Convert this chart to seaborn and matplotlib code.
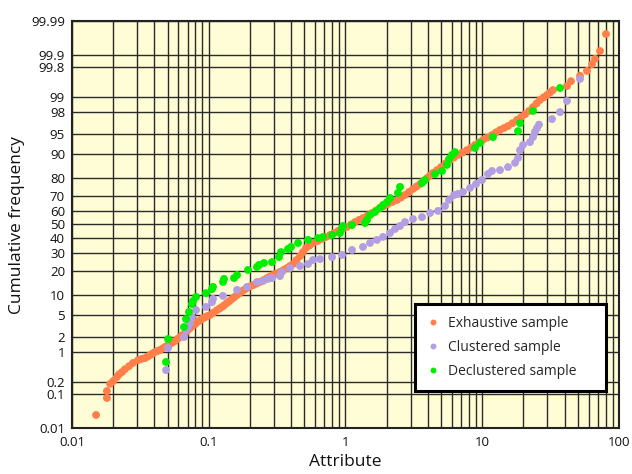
import math
from statistics import NormalDist
import numpy as np
import pandas as pd
import matplotlib
matplotlib.use("Agg")
import matplotlib.pyplot as plt
import seaborn as sns

# ---------------- data ----------------
# exhaustive sample: first pass of readings along the curve
exh_x = [0.015, 0.018, 0.018, 0.019, 0.020, 0.0213, 0.0221, 0.0232, 0.0244, 0.0261,
         0.0279, 0.0304, 0.0342, 0.0372, 0.0405, 0.0440, 0.0479, 0.0521, 0.0566, 0.0616,
         0.0671, 0.0729, 0.0793, 0.0863, 0.0939, 0.102, 0.115, 0.125, 0.136, 0.148,
         0.161, 0.175, 0.191, 0.211, 0.237, 0.267, 0.295, 0.332, 0.373, 0.413,
         0.465, 0.514, 0.578, 0.673, 0.770, 0.881, 1.026, 1.174, 1.343, 1.562,
         1.788, 2.046, 2.380, 2.723, 3.116, 3.506, 3.945, 4.364, 4.994, 5.810,
         6.647, 7.736, 8.851, 10.13, 11.78, 13.48, 15.43, 17.96, 20.54, 23.50,
         26.44, 29.75, 32.91, 41.66, 44.57, 51.86, 58.34, 63.48, 66.76, 72.61, 80.35]
exh_p = [0.025, 0.076, 0.117, 0.18, 0.21, 0.265, 0.31, 0.35, 0.41, 0.48,
         0.57, 0.66, 0.73, 0.85, 0.99, 1.09, 1.26, 1.44, 1.66, 1.98,
         2.36, 2.9, 3.4, 4.0, 4.5, 4.9, 5.9, 6.6, 7.6, 8.7,
         9.9, 11.2, 12.3, 13.4, 14.7, 16.4, 17.8, 19.3, 21.3, 23.5,
         28.2, 33.4, 36.8, 39.6, 42.4, 45.3, 48.2, 51.8, 54.7, 58.3,
         61.9, 64.6, 67.3, 70.5, 74.2, 77.0, 80.2, 82.7, 85.3, 88.1,
         89.8, 91.3, 92.7, 93.9, 94.9, 95.8, 96.4, 97.2, 97.8, 98.4,
         98.86, 99.10, 99.30, 99.43, 99.56, 99.67, 99.75, 99.83, 99.876, 99.924, 99.975]
# exhaustive sample: further readings inside the dense part of the curve
exh_x2 = [0.0322, 0.0357, 0.0388, 0.0422, 0.0459, 0.0499, 0.0543, 0.0591, 0.0643, 0.0699,
          0.0761, 0.0827, 0.0900, 0.0979, 0.1083, 0.1199, 0.1304, 0.1418, 0.1543, 0.1679,
          0.1826, 0.2002, 0.2235, 0.2514, 0.2804, 0.3128, 0.352, 0.3927, 0.4383, 0.4888,
          0.5454, 0.6240, 0.7203, 0.8237, 0.951, 1.097, 1.255, 1.448, 1.671, 1.911,
          2.207, 2.546, 2.913, 3.305, 3.719, 4.149, 4.668, 5.387, 6.215, 7.173,
          8.275, 9.467, 10.92, 12.60, 14.42, 16.64, 19.20, 21.98, 24.93, 28.05, 31.29]
exh_p2 = [0.70, 0.79, 0.92, 1.04, 1.17, 1.35, 1.55, 1.82, 2.17, 2.63,
          3.17, 3.74, 4.29, 4.72, 5.38, 6.23, 7.05, 8.09, 9.26, 10.5,
          11.7, 12.9, 14.0, 15.5, 17.1, 18.5, 20.3, 22.4, 25.8, 30.7,
          35.0, 38.1, 41.0, 43.8, 46.7, 50.0, 53.3, 56.6, 60.1, 63.2,
          66.0, 68.9, 72.4, 75.6, 78.7, 81.5, 84.0, 86.8, 89.0, 90.6,
          92.0, 93.3, 94.4, 95.4, 96.1, 96.8, 97.5, 98.1, 98.65, 98.99, 99.21]

clu_x = [0.0487, 0.0504, 0.0659, 0.0682, 0.0705, 0.0729, 0.0754, 0.0807, 0.0955, 0.1056,
         0.1074, 0.1271, 0.161, 0.1905, 0.2253, 0.2493, 0.2713, 0.290, 0.332, 0.3433,
         0.3927, 0.465, 0.532, 0.578, 0.651, 0.797, 0.943, 1.116, 1.343, 1.511,
         1.699, 1.880, 2.115, 2.301, 2.503, 2.723, 3.116, 3.626, 4.149, 4.747,
         5.341, 5.713, 6.215, 6.647, 7.233, 8.137, 9.000, 9.958, 11.02, 11.78,
         13.48, 15.43, 17.36, 18.26, 18.88, 19.86, 22.35, 23.50, 24.30, 25.14,
         26.00, 32.36, 37.03, 41.66, 51.86]
clu_p = [0.39, 1.20, 1.98, 2.69, 3.05, 3.59, 4.54, 5.9, 6.6, 7.8,
         8.7, 9.6, 11.6, 12.7, 14.7, 15.1, 16.0, 16.4, 17.3, 19.3,
         21.3, 22.4, 23.5, 25.8, 26.4, 27.6, 28.9, 32.1, 34.1, 36.8,
         38.9, 41.0, 43.8, 46.7, 48.9, 51.8, 54.0, 55.4, 58.3, 59.8,
         63.2, 67.3, 70.5, 71.2, 72.4, 74.8, 77.0, 79.2, 82.2, 83.6,
         84.0, 85.3, 87.0, 88.8, 91.3, 92.7, 93.4, 94.5, 95.5, 96.1,
         96.6, 97.3, 98.0, 98.8, 99.61]

dec_x = [0.0487, 0.0504, 0.0659, 0.0682, 0.0717, 0.0754, 0.0767, 0.0807, 0.0955, 0.1056,
         0.1074, 0.1271, 0.1293, 0.1530, 0.161, 0.1936, 0.2253, 0.2331, 0.2535, 0.290,
         0.3264, 0.3376, 0.3798, 0.3996, 0.4495, 0.532, 0.6294, 0.6846, 0.7969, 0.9117,
         0.9428, 0.9587, 1.1156, 1.388, 1.436, 1.511, 1.643, 1.788, 1.880, 2.012,
         2.115, 2.420, 2.503, 3.626, 3.814, 4.512, 5.078, 5.523, 5.713, 6.009,
         6.318, 8.851, 9.627, 11.98, 18.26, 18.88, 23.50, 37.03]
dec_p = [0.60, 1.82, 3.05, 4.2, 5.5, 7.3, 8.1, 9.3, 10.5, 11.9,
         12.7, 14.7, 16.0, 16.4, 17.8, 20.3, 21.9, 23.0, 24.1, 24.6,
         27.6, 30.7, 32.7, 34.1, 36.8, 38.9, 40.2, 41.0, 42.4, 43.8,
         47.4, 48.9, 49.6, 51.1, 53.3, 56.9, 59.1, 61.9, 63.9, 66.0,
         68.6, 71.8, 75.4, 77.6, 79.2, 82.2, 83.6, 86.2, 88.4, 89.8,
         90.7, 91.9, 93.2, 94.5, 95.6, 96.8, 98.1, 99.37]

series_names = ["Exhaustive sample", "Clustered sample", "Declustered sample"]
series_colors = ["#FF7F4A", "#B39DE3", "#00EE00"]

y_ticks = [0.01, 0.1, 0.2, 1, 2, 5, 10, 20, 30, 40, 50, 60, 70, 80, 90, 95, 98, 99, 99.8, 99.9, 99.99]
y_tick_labels = ["0.01", "0.1", "0.2", "1", "2", "5", "10", "20", "30", "40", "50",
                 "60", "70", "80", "90", "95", "98", "99", "99.8", "99.9", "99.99"]
x_ticks = [0.01, 0.1, 1, 10, 100]
x_tick_labels = ["0.01", "0.1", "1", "10", "100"]

# ---------------- build frame ----------------
df = pd.concat([
    pd.DataFrame({"Attribute": exh_x + exh_x2, "Cum": exh_p + exh_p2, "Sample": series_names[0]}),
    pd.DataFrame({"Attribute": clu_x, "Cum": clu_p, "Sample": series_names[1]}),
    pd.DataFrame({"Attribute": dec_x, "Cum": dec_p, "Sample": series_names[2]}),
], ignore_index=True)

# ---------------- probability scale ----------------
_nd = NormalDist()
_ppf = np.vectorize(_nd.inv_cdf, otypes=[float])
_erf = np.vectorize(math.erf, otypes=[float])


def prob_fwd(p):
    p = np.clip(np.asarray(p, dtype=float) / 100.0, 1e-12, 1 - 1e-12)
    return _ppf(p)


def prob_inv(z):
    z = np.asarray(z, dtype=float)
    return 100.0 * 0.5 * (1.0 + _erf(z / math.sqrt(2.0)))


sns.set_theme(style="white")
plt.rcParams["font.family"] = ["Open Sans", "DejaVu Sans"]

fig = plt.figure(figsize=(6.32, 4.74), dpi=100)
ax = fig.add_axes([72 / 632, 46 / 474, 547 / 632, 407 / 474])
ax.set_facecolor("#FFFDD6")

ax.set_xscale("log")
ax.set_yscale("function", functions=(prob_fwd, prob_inv))

sns.scatterplot(data=df, x="Attribute", y="Cum", hue="Sample",
                hue_order=series_names, palette=series_colors,
                s=32, edgecolor="none", linewidth=0, ax=ax, zorder=3)

ax.set_xlim(0.01, 100)
ax.set_ylim(0.01, 99.99)
ax.set_xticks(x_ticks)
ax.set_xticklabels(x_tick_labels)
minor = [m * 10.0 ** e for e in range(-2, 2) for m in range(2, 10)]
ax.set_xticks(minor, minor=True)
ax.set_xticklabels([], minor=True)
ax.set_yticks(y_ticks)
ax.set_yticklabels(y_tick_labels)
ax.set_yticks([], minor=True)

ax.grid(True, which="both", axis="x", color="#2a2a2a", linewidth=1.0, zorder=1)
ax.grid(True, which="major", axis="y", color="#2a2a2a", linewidth=1.0, zorder=1)
ax.set_axisbelow(True)

ax.tick_params(axis="both", which="both", length=0, labelsize=9.5, colors="#111111")
ax.tick_params(axis="y", pad=5)
ax.tick_params(axis="x", pad=6)

for sp in ax.spines.values():
    sp.set_visible(True)
    sp.set_color("#222222")
    sp.set_linewidth(1.5)

ax.set_xlabel("Attribute", fontsize=12.5, labelpad=3, color="#111111")
ax.set_ylabel("Cumulative frequency", fontsize=12.5, labelpad=4, color="#111111")

leg = ax.legend(loc="lower left",
                bbox_to_anchor=((415 - 72) / 547, (428 - 391) / 407, (606 - 415) / 547, 0.2),
                mode="expand", borderaxespad=0, frameon=True, fancybox=False,
                fontsize=10, markerscale=0.75, handlelength=0.8, handletextpad=0.7,
                labelspacing=0.65, borderpad=0.88, title=None)
leg.get_frame().set_edgecolor("black")
leg.get_frame().set_linewidth(2.2)
leg.get_frame().set_facecolor("white")
leg.get_frame().set_alpha(1)
leg.set_zorder(5)

fig.savefig("out.png", dpi=100)
